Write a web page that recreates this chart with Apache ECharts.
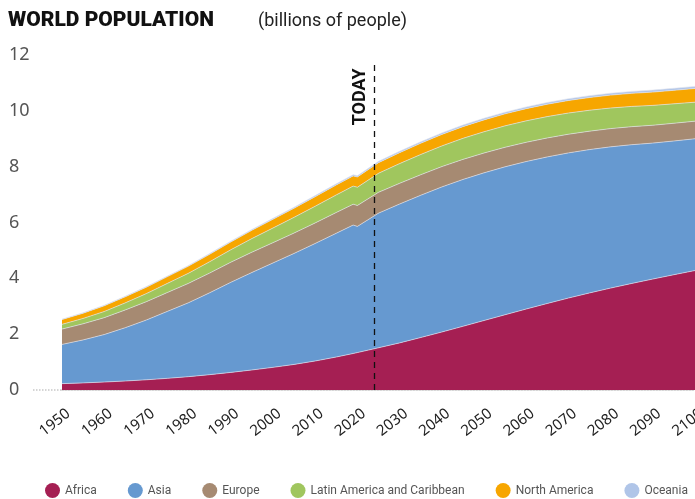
<!DOCTYPE html>
<html><head><meta charset="utf-8">
<script src="https://cdn.jsdelivr.net/npm/echarts@6/dist/echarts.min.js"></script>
<style>html,body{margin:0;padding:0;background:#fff}#c{width:695px;height:499px}</style>
</head><body><div id="c"></div>
<script>
const years = [1950,1955,1960,1965,1970,1975,1980,1985,1990,1995,2000,2005,2010,2015,2019,2020,2025,2030,2035,2040,2045,2050,2055,2060,2065,2070,2075,2080,2085,2090,2095,2100];
const africa = [0.228,0.254,0.285,0.322,0.366,0.418,0.478,0.550,0.630,0.717,0.811,0.916,1.039,1.182,1.308,1.341,1.512,1.688,1.879,2.077,2.281,2.489,2.696,2.900,3.100,3.293,3.477,3.650,3.817,3.974,4.130,4.280];
const asia = [1.405,1.540,1.701,1.911,2.142,2.400,2.650,2.933,3.226,3.493,3.741,3.978,4.210,4.434,4.600,4.520,4.823,4.974,5.096,5.197,5.260,5.290,5.299,5.284,5.250,5.200,5.135,5.060,4.970,4.870,4.790,4.720];
const europe = [0.549,0.577,0.605,0.635,0.657,0.677,0.694,0.708,0.721,0.727,0.726,0.729,0.736,0.743,0.747,0.748,0.746,0.741,0.735,0.728,0.720,0.710,0.700,0.689,0.679,0.669,0.660,0.653,0.646,0.640,0.635,0.630];
const latinAmerica = [0.169,0.193,0.220,0.253,0.288,0.325,0.364,0.405,0.446,0.487,0.526,0.563,0.598,0.630,0.648,0.654,0.682,0.706,0.725,0.740,0.753,0.762,0.767,0.768,0.765,0.759,0.750,0.738,0.725,0.711,0.696,0.680];
const northAmerica = [0.173,0.187,0.205,0.219,0.231,0.242,0.254,0.267,0.280,0.297,0.313,0.328,0.343,0.357,0.367,0.369,0.381,0.393,0.404,0.413,0.420,0.425,0.431,0.437,0.443,0.449,0.455,0.462,0.469,0.476,0.484,0.491];
const oceania = [0.013,0.014,0.016,0.018,0.020,0.021,0.023,0.025,0.027,0.029,0.031,0.034,0.037,0.040,0.042,0.043,0.046,0.048,0.051,0.054,0.056,0.057,0.059,0.061,0.063,0.065,0.066,0.068,0.070,0.072,0.073,0.075];
const seriesNames = ['Africa','Asia','Europe','Latin America and Caribbean','North America','Oceania'];
const seriesColors = ['#a51f53','#6699d0','#a68a72','#a0c65e','#f7a600','#b0c5e8'];
const todayYear = 2024;
const todayTop = 11.7;

const allData = [africa, asia, europe, latinAmerica, northAmerica, oceania];
const chart = echarts.init(document.getElementById('c'));
const series = allData.map((arr, i) => ({
  name: seriesNames[i],
  type: 'line',
  stack: 'pop',
  symbol: 'none',
  // value first so the stack is applied on the population dimension
  data: years.map((y, k) => [arr[k], y]),
  encode: { x: 1, y: 0 },
  itemStyle: { color: seriesColors[i] },
  lineStyle: { width: 0.8, color: 'rgba(225,228,240,0.8)' },
  areaStyle: { color: seriesColors[i], opacity: 1 },
  emphasis: { disabled: true },
  z: 2
}));
series[5].markLine = {
  silent: true,
  symbol: 'none',
  lineStyle: { color: '#111', type: [6, 5], width: 1.3 },
  label: { show: true, formatter: 'TODAY', position: 'insideEndTop', color: '#111', fontWeight: 'bold', fontSize: 18, fontFamily: 'Roboto', distance: 5 },
  data: [[{ coord: [todayYear, 0] }, { coord: [todayYear, todayTop] }]]
};
chart.setOption({
  animation: false,
  title: [
    { text: 'WORLD POPULATION', left: 3, top: 5, textStyle: { fontFamily: 'Roboto', fontWeight: 900, fontSize: 21, color: '#111' } },
    { text: '(billions of people)', left: 253, top: 7, textStyle: { fontFamily: 'Roboto', fontWeight: 'normal', fontSize: 18, color: '#222' } }
  ],
  legend: {
    bottom: -4, left: 40, width: 660, icon: 'circle', itemWidth: 15, itemHeight: 15, itemGap: 31,
    textStyle: { fontFamily: 'Roboto', fontSize: 12, color: '#555' },
    data: seriesNames
  },
  grid: { left: 62, right: 0, top: 55, bottom: 109, containLabel: false, outerBoundsMode: 'none' },
  xAxis: {
    type: 'value', min: 1950, max: 2100, interval: 10,
    axisLine: { show: true, lineStyle: { color: '#c8c8c8', type: 'dotted', width: 1.5 } },
    axisTick: { show: false },
    splitLine: { show: false },
    axisLabel: { rotate: 38, align: 'center', verticalAlign: 'middle', margin: 27, padding: [0, 18, 0, 0], fontFamily: 'Noto Sans', fontSize: 15, color: '#222', formatter: v => String(v) }
  },
  yAxis: {
    type: 'value', min: 0, max: 12, interval: 2,
    axisLine: { show: false }, axisTick: { show: false }, splitLine: { show: false },
    axisLabel: { align: 'left', margin: 53, fontFamily: 'Noto Sans', fontSize: 18, color: '#555' }
  },
  graphic: [
    { type: 'line', shape: { x1: 33, y1: 390, x2: 62, y2: 390 }, style: { stroke: '#c8c8c8', lineWidth: 1.5, lineDash: [1.5, 1.5] }, z: 1 }
  ],
  series: series
});
</script></body></html>
